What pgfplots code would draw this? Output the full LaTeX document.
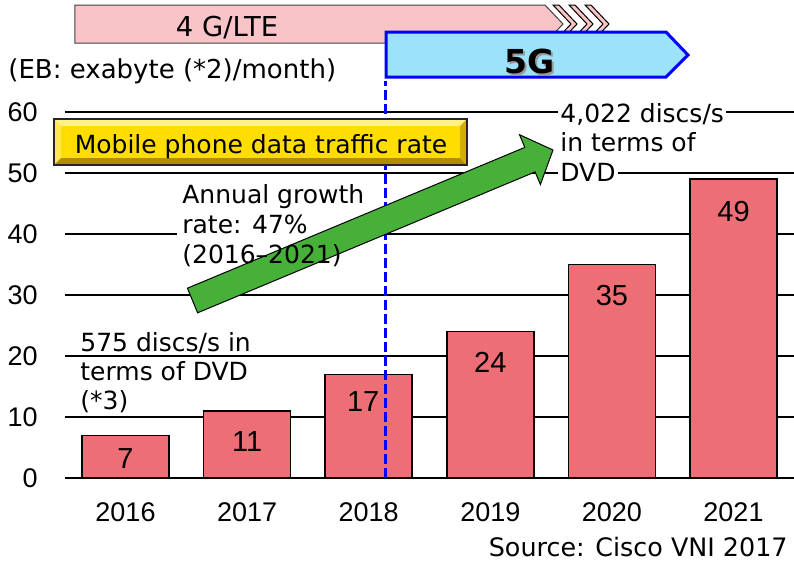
\documentclass[border=0pt]{standalone}
\usepackage{pgfplots}
\pgfplotsset{compat=1.18}
\usepackage{fontspec}
\setmainfont{DejaVu Sans}
\newfontfamily\numf{Liberation Sans}
\definecolor{barc}{RGB}{237,110,117}
\definecolor{pinkc}{RGB}{248,196,200}
\definecolor{cyanc}{RGB}{155,227,250}
\definecolor{blue5}{RGB}{0,0,255}
\definecolor{greenc}{RGB}{70,176,56}
\definecolor{yface}{RGB}{255,221,0}
\definecolor{ytop}{RGB}{255,242,130}
\definecolor{yleft}{RGB}{255,232,80}
\definecolor{yright}{RGB}{210,175,0}
\definecolor{ybot}{RGB}{175,140,0}
\newcommand\txt{\fontsize{12.5}{15}\selectfont}
\begin{document}
\begin{tikzpicture}
\begin{axis}[
  x=60.8pt, y=3.05pt,
  xmin=-0.5, xmax=5.5, ymin=0, ymax=60,
  axis line style={draw=none},
  major tick length=0pt,
  tick style={draw=none},
  ytick={0,10,20,30,40,50,60},
  xtick={0,1,2,3,4,5},
  xticklabels={2016,2017,2018,2019,2020,2021},
  ymajorgrids,
  grid style={black, line width=0.75pt},
  /pgf/number format/assume math mode=true,
  ticklabel style={font=\numf\fontsize{13.5}{15}\selectfont, inner sep=0pt},
  yticklabel style={anchor=east, xshift=-13.3pt},
  xticklabel style={anchor=north, yshift=-12.3pt},
  clip=false,
]
\addplot[ybar, bar width=43.5pt, fill=barc, draw=black, line width=0.75pt,
  point meta=y,
  visualization depends on={value \thisrow{ls}\as\lshift},
  visualization depends on={value \thisrow{lx}\as\lxshift},
  nodes near coords={\pgfmathprintnumber{\pgfplotspointmeta}},
  every node near coord/.append style={font=\numf\fontsize{14.5}{16}\selectfont, anchor=center, yshift=\lshift pt, xshift=\lxshift pt, inner sep=0pt, text=black}]
  table {
x y ls lx
0 7 -11.75 0
1 11 -15.25 0
2 17 -13.5 -2.75
3 24 -15.5 0
4 35 -15.5 0
5 49 -16 0
};
\addplot[draw=blue5, line width=1.5pt, dash pattern=on 5pt off 2pt] coordinates {(2.142,0) (2.142,65)};
\coordinate (P0) at (axis cs:-1.0321,78.36);
\coordinate (P1) at (axis cs:5.4975,-13.93);
\end{axis}
\begin{scope}[shift={(P0)}, x=0.5pt, y=-0.5pt]
% 4G banner
\draw[fill=pinkc, draw=black!75, line width=0.5pt] (75,5) -- (545,5) -- (563,24) -- (545,43) -- (75,43) -- cycle;
\foreach \c in {553,569,585} {
  \draw[fill=pinkc, draw=black, line width=0.5pt] (\c,5) -- (\c+6,5) -- (\c+24,24) -- (\c+6,43) -- (\c,43) -- (\c+18,24) -- cycle;
}
\node[anchor=base, inner sep=0pt, font=\fontsize{13.7}{16}\selectfont] at (227,36) {4 G/LTE};
% 5G banner
\draw[fill=cyanc, draw=blue5, line width=1.5pt] (386,32) -- (666,32) -- (688,55) -- (666,77) -- (386,77) -- cycle;
\node[anchor=base, inner sep=0pt, text=black!40, font=\bfseries\fontsize{16.5}{18}\selectfont] at (532,75) {5G};
\node[anchor=base, inner sep=0pt, font=\bfseries\fontsize{16.5}{18}\selectfont] at (530,73) {5G};
% yellow box
\fill[ytop] (54,119) -- (467,119) -- (460,126) -- (61,126) -- cycle;
\fill[yleft] (54,119) -- (61,126) -- (61,158) -- (54,165) -- cycle;
\fill[yright] (467,119) -- (467,165) -- (460,158) -- (460,126) -- cycle;
\fill[ybot] (54,165) -- (467,165) -- (460,158) -- (61,158) -- cycle;
\fill[yface] (61,126) rectangle (460,158);
\draw[black!85, line width=1pt] (54,119) rectangle (467,165);
\node[anchor=base, inner sep=0pt, font=\txt] at (261,153) {Mobile phone data traffic rate};
% white patch behind growth text
\fill[white] (177,227) rectangle (320,241);
% green arrow
\draw[fill=greenc, draw=black, line width=0.5pt, line join=miter] (187.4,288.2) -- (524.8,147.4) -- (519.5,134.7) -- (553,150) -- (540.4,184.5) -- (535.1,171.9) -- (197.6,312.8) -- cycle;
% texts
\node[anchor=base west, inner sep=0pt, font=\fontsize{13}{15}\selectfont] at (8,78) {(EB: exabyte (*2)/month)};
\node[anchor=base west, inner sep=0pt, font=\txt] at (182,203) {Annual growth};
\node[anchor=base west, inner sep=0pt, font=\txt] at (182,233) {rate: 47\%};
\node[anchor=base west, inner sep=0pt, font=\txt] at (182,263) {(2016–2021)};
\node[anchor=base west, inner sep=0pt, font=\txt] at (80,351) {575 discs/s in};
\node[anchor=base west, inner sep=0pt, font=\txt] at (80,380) {terms of DVD};
\node[anchor=base west, inner sep=0pt, font=\txt] at (80,409) {(*3)};
\node[anchor=base west, inner sep=1pt, fill=white, font=\txt] at (558,122) {4,022 discs/s};
\node[anchor=base west, inner sep=0pt, font=\txt] at (560,151) {in terms of};
\node[anchor=base west, inner sep=1pt, fill=white, font=\txt] at (558,181) {DVD};
\node[anchor=base east, inner sep=0pt, font=\fontsize{12.7}{15}\selectfont] at (788,556) {Source: Cisco VNI 2017};
\end{scope}
\pgfresetboundingbox
\useasboundingbox (P0) rectangle (P1);
\end{tikzpicture}
\end{document}
